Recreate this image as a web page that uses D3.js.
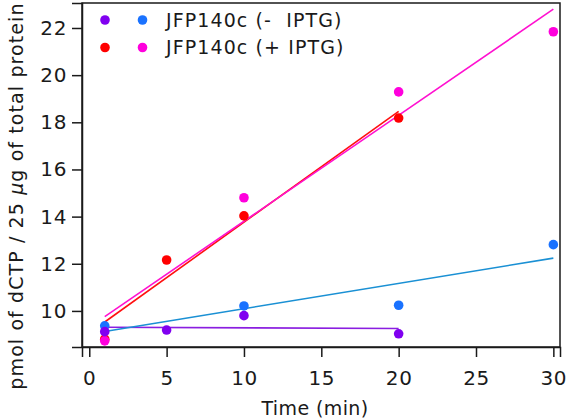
<!DOCTYPE html>
<html>
<head>
<meta charset="utf-8">
<script src="https://cdn.jsdelivr.net/npm/d3@7"></script>
<style>
html,body{margin:0;padding:0;background:#fff;}
svg{display:block;}
text{font-family:"DejaVu Sans",sans-serif;fill:#1a1a1a;}
</style>
</head>
<body>
<svg id="chart" width="566" height="420"></svg>
<script>
// Data
const timesPurple = [1, 5, 10, 20];
const valuesPurple = [9.12, 9.19, 9.80, 9.03];
const timesBlue = [1, 10, 20, 30];
const valuesBlue = [9.37, 10.21, 10.24, 12.81];
const timesRed = [1, 5, 10, 20];
const valuesRed = [8.80, 12.16, 14.03, 18.18];
const timesMagenta = [1, 10, 20, 30];
const valuesMagenta = [8.73, 14.80, 19.29, 21.84];
const xTicks = [0, 5, 10, 15, 20, 25, 30];
const yTicks = [10, 12, 14, 16, 18, 20, 22];
const legendLabels = ["JFP140c (-  IPTG)", "JFP140c (+ IPTG)"];

const series = [
  {x: timesPurple, y: valuesPurple, dot: "#8000f0", line: "#8a1ee0"},
  {x: timesBlue, y: valuesBlue, dot: "#1a72ff", line: "#1a90d4"},
  {x: timesRed, y: valuesRed, dot: "#ff0000", line: "#ff1010"},
  {x: timesMagenta, y: valuesMagenta, dot: "#ff00dd", line: "#ff10d0"}
];

function fit(xs, ys) {
  const n = xs.length;
  const mx = d3.mean(xs), my = d3.mean(ys);
  let sxy = 0, sxx = 0;
  for (let i = 0; i < n; i++) { sxy += (xs[i]-mx)*(ys[i]-my); sxx += (xs[i]-mx)**2; }
  const b = sxy / sxx;
  return x => my + b * (x - mx);
}

const svg = d3.select("#chart");
const L = 82, R = 560, T = 3, B = 347;
const x = d3.scaleLinear().domain([-0.47, 30.43]).range([L, R]);
const y = d3.scaleLinear().domain([8.47, 23.06]).range([B, T]);

// frame
svg.append("rect").attr("x", L).attr("y", T).attr("width", R-L).attr("height", B-T)
  .attr("fill", "none").attr("stroke", "#1a1a1a").attr("stroke-width", 1.5);

const xAxis = svg.append("g").attr("transform", `translate(0,${B})`)
  .call(d3.axisBottom(x).tickValues(xTicks).tickSize(10).tickPadding(14).tickFormat(d3.format("d")));
const yAxis = svg.append("g").attr("transform", `translate(${L},0)`)
  .call(d3.axisLeft(y).tickValues(yTicks).tickSize(10).tickPadding(5).tickFormat(d3.format("d")));
[xAxis, yAxis].forEach(g => {
  g.select(".domain").attr("stroke", "#1a1a1a").attr("stroke-width", 1.5);
  g.selectAll(".tick line").attr("stroke", "#1a1a1a").attr("stroke-width", 1.5);
  g.selectAll(".tick text").attr("font-size", 20).attr("font-family", "DejaVu Sans")
    .attr("letter-spacing", 0.6).attr("fill", "#1a1a1a");
});

// fit lines
series.forEach(s => {
  const f = fit(s.x, s.y);
  const x0 = d3.min(s.x), x1 = d3.max(s.x);
  svg.append("line")
    .attr("x1", x(x0)).attr("y1", y(f(x0)))
    .attr("x2", x(x1)).attr("y2", y(f(x1)))
    .attr("stroke", s.line).attr("stroke-width", 1.6);
});

// points
const order = [2, 3, 1, 0];
order.forEach(i => {
  const s = series[i];
  svg.append("g").selectAll("circle").data(s.x.map((t, j) => [t, s.y[j]])).join("circle")
    .attr("cx", d => x(d[0])).attr("cy", d => y(d[1])).attr("r", 4.8).attr("fill", s.dot);
});

// legend
const leg = svg.append("g");
[[0, 1], [2, 3]].forEach((pair, row) => {
  const cy = 20 + row * 27.5;
  leg.append("circle").attr("cx", 105).attr("cy", cy).attr("r", 4.8).attr("fill", series[pair[0]].dot);
  leg.append("circle").attr("cx", 142.5).attr("cy", cy).attr("r", 4.8).attr("fill", series[pair[1]].dot);
  leg.append("text").attr("x", 166).attr("y", cy + 6.5)
    .attr("font-size", 19).attr("letter-spacing", 1.1)
    .attr("xml:space", "preserve").style("white-space", "pre").text(legendLabels[row]);
});

// axis titles
svg.append("text").attr("x", 315).attr("y", 415).attr("text-anchor", "middle")
  .attr("font-size", 19).attr("letter-spacing", 0.4).text("Time (min)");
const yt = svg.append("text").attr("transform", "translate(23,196) rotate(-90)")
  .attr("text-anchor", "middle").attr("font-size", 19).attr("letter-spacing", 1.1);
yt.append("tspan").text("pmol of dCTP / 25 ");
yt.append("tspan").attr("font-style", "italic").text("\u03bc");
yt.append("tspan").text("g of total protein");
</script>
</body>
</html>
